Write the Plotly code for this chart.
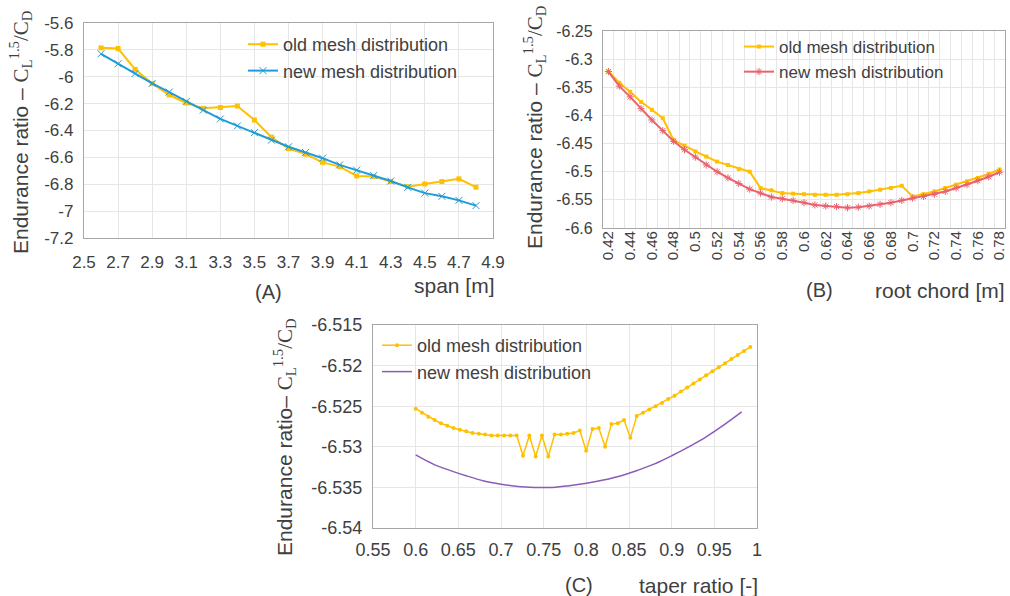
import plotly.graph_objects as go

# ---------------- data ----------------
# (A) span
span = [2.6, 2.7, 2.8, 2.9, 3.0, 3.1, 3.2, 3.3, 3.4, 3.5, 3.6, 3.7, 3.8, 3.9, 4.0,
        4.1, 4.2, 4.3, 4.4, 4.5, 4.6, 4.7, 4.8]
a_old = [-5.785, -5.790, -5.945, -6.050, -6.136, -6.195, -6.235, -6.229, -6.218, -6.322,
         -6.450, -6.535, -6.576, -6.637, -6.669, -6.738, -6.743, -6.780, -6.818, -6.798,
         -6.780, -6.760, -6.822]
a_new = [-5.829, -5.903, -5.976, -6.050, -6.114, -6.184, -6.248, -6.314, -6.366, -6.416,
         -6.472, -6.521, -6.564, -6.606, -6.656, -6.695, -6.735, -6.776, -6.823, -6.866,
         -6.890, -6.920, -6.959]
a_xticks = [2.5, 2.7, 2.9, 3.1, 3.3, 3.5, 3.7, 3.9, 4.1, 4.3, 4.5, 4.7, 4.9]
a_xtext = ["2.5", "2.7", "2.9", "3.1", "3.3", "3.5", "3.7", "3.9", "4.1", "4.3", "4.5", "4.7", "4.9"]
a_yticks = [-5.6, -5.8, -6.0, -6.2, -6.4, -6.6, -6.8, -7.0, -7.2]
a_ytext = ["-5.6", "-5.8", "-6", "-6.2", "-6.4", "-6.6", "-6.8", "-7", "-7.2"]

# (B) root chord
chord = [0.42, 0.43, 0.44, 0.45, 0.46, 0.47, 0.48, 0.49, 0.50, 0.51, 0.52, 0.53, 0.54,
         0.55, 0.56, 0.57, 0.58, 0.59, 0.60, 0.61, 0.62, 0.63, 0.64, 0.65, 0.66, 0.67,
         0.68, 0.69, 0.70, 0.71, 0.72, 0.73, 0.74, 0.75, 0.76, 0.77, 0.78]
b_old = [-6.322, -6.342, -6.358, -6.376, -6.390, -6.405, -6.444, -6.454, -6.464, -6.473,
         -6.482, -6.488, -6.495, -6.500, -6.529, -6.533, -6.538, -6.539, -6.540, -6.541,
         -6.541, -6.541, -6.540, -6.538, -6.535, -6.532, -6.529, -6.525, -6.544, -6.540,
         -6.535, -6.529, -6.523, -6.517, -6.511, -6.504, -6.496]
b_new = [-6.322, -6.348, -6.367, -6.388, -6.408, -6.427, -6.446, -6.461, -6.474, -6.488,
         -6.500, -6.511, -6.521, -6.531, -6.538, -6.545, -6.548, -6.551, -6.555, -6.559,
         -6.561, -6.562, -6.564, -6.563, -6.561, -6.558, -6.555, -6.551, -6.547, -6.544,
         -6.540, -6.535, -6.529, -6.523, -6.516, -6.509, -6.501]
b_xticks = [0.42, 0.44, 0.46, 0.48, 0.50, 0.52, 0.54, 0.56, 0.58, 0.60, 0.62, 0.64, 0.66,
            0.68, 0.70, 0.72, 0.74, 0.76, 0.78]
b_xtext = ["0.42", "0.44", "0.46", "0.48", "0.5", "0.52", "0.54", "0.56", "0.58", "0.6",
           "0.62", "0.64", "0.66", "0.68", "0.7", "0.72", "0.74", "0.76", "0.78"]
b_yticks = [-6.25, -6.3, -6.35, -6.4, -6.45, -6.5, -6.55, -6.6]
b_ytext = ["-6.25", "-6.3", "-6.35", "-6.4", "-6.45", "-6.5", "-6.55", "-6.6"]

# (C) taper ratio
taper_old = [0.6, 0.6074, 0.6148, 0.6222, 0.6296, 0.637, 0.6444, 0.6518, 0.6592, 0.6666,
             0.674, 0.6814, 0.6888, 0.6962, 0.7036, 0.711, 0.7184, 0.7258, 0.7332, 0.7406,
             0.748, 0.7554, 0.7628, 0.7702, 0.7776, 0.785, 0.7924, 0.7998, 0.8072, 0.8146,
             0.822, 0.8294, 0.8368, 0.8442, 0.8516, 0.859, 0.8664, 0.8738, 0.8812, 0.8886,
             0.896, 0.9034, 0.9108, 0.9182, 0.9256, 0.933, 0.9404, 0.9478, 0.9552, 0.9626,
             0.97, 0.9774, 0.9848, 0.9922]
c_old = [-6.5253, -6.5258, -6.5263, -6.5267, -6.5271, -6.5274, -6.5277, -6.5279, -6.5281,
         -6.5283, -6.5284, -6.5285, -6.5286, -6.5286, -6.5286, -6.5286, -6.5286, -6.5311,
         -6.5286, -6.5312, -6.5286, -6.5312, -6.5285, -6.5285, -6.5284, -6.5283, -6.5280,
         -6.5305, -6.5278, -6.5277, -6.5300, -6.5272, -6.5271, -6.5267, -6.5289, -6.5262,
         -6.5258, -6.5254, -6.5250, -6.5246, -6.5241, -6.5237, -6.5232, -6.5227, -6.5222,
         -6.5217, -6.5212, -6.5207, -6.5202, -6.5197, -6.5192, -6.5187, -6.5182, -6.5177]
taper_new = [0.60, 0.62, 0.64, 0.66, 0.68, 0.70, 0.72, 0.74, 0.76, 0.78, 0.80, 0.82, 0.84,
             0.86, 0.88, 0.90, 0.92, 0.94, 0.96, 0.982]
c_new = [-6.5310, -6.5321, -6.5329, -6.5336, -6.5342, -6.5346, -6.5349, -6.5350, -6.5350,
         -6.5348, -6.5345, -6.5341, -6.5336, -6.5329, -6.5321, -6.5311, -6.5300, -6.5288,
         -6.5274, -6.5257]
c_xticks = [0.55, 0.6, 0.65, 0.7, 0.75, 0.8, 0.85, 0.9, 0.95, 1.0]
c_xtext = ["0.55", "0.6", "0.65", "0.7", "0.75", "0.8", "0.85", "0.9", "0.95", "1"]
c_yticks = [-6.515, -6.52, -6.525, -6.53, -6.535, -6.54]
c_ytext = ["-6.515", "-6.52", "-6.525", "-6.53", "-6.535", "-6.54"]

# ---------------- style ----------------
FONT = "Arial, 'Liberation Sans', sans-serif"
TXT = "#404040"
GRID = "#E6E6E6"
BOX = "#A6A6A6"
YEL = "#FFC000"
BLUE = "#1F9BD7"
RED = "#E9626E"
PURP = "#8A5CB8"
W, H = 1010, 596


def px(x):
    return x / W


def py(y):
    return 1 - y / H


fig = go.Figure()

# (A)
fig.add_trace(go.Scatter(x=span, y=a_old, mode="lines+markers", name="old mesh distribution",
                         line=dict(color=YEL, width=2), marker=dict(symbol="square", size=5, color=YEL),
                         xaxis="x", yaxis="y", legend="legend"))
fig.add_trace(go.Scatter(x=span, y=a_new, mode="lines+markers", name="new mesh distribution",
                         line=dict(color=BLUE, width=2),
                         marker=dict(symbol="x-thin-open", size=7, color=BLUE, line=dict(width=1, color=BLUE)),
                         xaxis="x", yaxis="y", legend="legend"))
# (B)
fig.add_trace(go.Scatter(x=chord, y=b_old, mode="lines+markers", name="old mesh distribution",
                         line=dict(color=YEL, width=2), marker=dict(symbol="square", size=4, color=YEL),
                         xaxis="x2", yaxis="y2", legend="legend2"))
fig.add_trace(go.Scatter(x=chord, y=b_new, mode="lines+markers", name="new mesh distribution",
                         line=dict(color=RED, width=2),
                         marker=dict(symbol="asterisk-open", size=6, color=RED, line=dict(width=1, color=RED)),
                         xaxis="x2", yaxis="y2", legend="legend2"))
# (C)
fig.add_trace(go.Scatter(x=taper_old, y=c_old, mode="lines+markers", name="old mesh distribution",
                         line=dict(color=YEL, width=1.5), marker=dict(symbol="circle", size=4, color=YEL),
                         xaxis="x3", yaxis="y3", legend="legend3"))
fig.add_trace(go.Scatter(x=taper_new, y=c_new, mode="lines", name="new mesh distribution",
                         line=dict(color=PURP, width=1.5, shape="spline"),
                         xaxis="x3", yaxis="y3", legend="legend3"))


def ax(domain, anchor, rng, tickvals, ticktext, size, grid=True, **kw):
    d = dict(domain=domain, anchor=anchor, range=rng, tickmode="array", tickvals=tickvals,
             ticktext=ticktext, showgrid=grid, gridcolor=GRID, gridwidth=1, zeroline=False,
             showline=True, mirror=True, linecolor=BOX, linewidth=1.3, ticks="",
             automargin=False,
             tickfont=dict(family=FONT, size=size, color=TXT))
    d.update(kw)
    return d


fig.update_layout(
    template="none",
    width=W, height=H, margin=dict(l=0, r=0, t=0, b=0, pad=0, autoexpand=False),
    paper_bgcolor="white", plot_bgcolor="white",
    font=dict(family=FONT, color=TXT),
    xaxis=ax([px(84), px(493)], "y", [2.5, 4.9], a_xticks, a_xtext, 17, ticklabelstandoff=8),
    yaxis=ax([py(238), py(23)], "x", [-7.2, -5.6], a_yticks, a_ytext, 17, ticklabelstandoff=6),
    xaxis2=ax([px(603), px(1005)], "y2", [0.415, 0.785], b_xticks, b_xtext, 15, grid=False,
              tickangle=-90, ticklabelstandoff=-4,
              minor=dict(tick0=0.425, dtick=0.01, showgrid=True, gridcolor=GRID, gridwidth=1, ticks="")),
    yaxis2=ax([py(228), py(31)], "x2", [-6.6, -6.25], b_yticks, b_ytext, 16, ticklabelstandoff=6),
    xaxis3=ax([px(373), px(757)], "y3", [0.55, 1.0], c_xticks, c_xtext, 18, ticklabelstandoff=5),
    yaxis3=ax([py(528), py(325)], "x3", [-6.54, -6.515], c_yticks, c_ytext, 18, ticklabelstandoff=6),
    legend=dict(x=px(243), y=py(26), xanchor="left", yanchor="top", bgcolor="rgba(0,0,0,0)",
                font=dict(family=FONT, size=18, color=TXT), itemwidth=30, tracegroupgap=0),
    legend2=dict(x=px(739), y=py(29), xanchor="left", yanchor="top", bgcolor="rgba(0,0,0,0)",
                 font=dict(family=FONT, size=17, color=TXT), itemwidth=30, tracegroupgap=0),
    legend3=dict(x=px(377), y=py(327), xanchor="left", yanchor="top", bgcolor="rgba(0,0,0,0)",
                 font=dict(family=FONT, size=18, color=TXT), itemwidth=30, tracegroupgap=0),
)

SER = "<span style='font-family:\"Liberation Serif\", \"DejaVu Serif\", serif'>"
ytitle_a = "Endurance ratio – " + SER + "C<sub>L</sub><sup>1.5</sup>/C<sub>D</sub></span>"
ytitle_c = "Endurance ratio– " + SER + "C<sub>L</sub><sup>1.5</sup>/C<sub>D</sub></span>"

ann = []


def add(text, x, y, size, xanchor="center", angle=0):
    ann.append(dict(text=text, x=px(x), y=py(y), xref="paper", yref="paper", showarrow=False,
                    xanchor=xanchor, yanchor="middle", textangle=angle,
                    font=dict(family=FONT, size=size, color=TXT)))


add(ytitle_a, 20, 132, 21, angle=-90)
add(ytitle_a, 534, 127, 21, angle=-90)
add(ytitle_c, 284, 437, 21, angle=-90)
add("span [m]", 497, 286, 21, xanchor="right")
add("(A)", 268, 292, 20)
add("root chord [m]", 1007, 290, 21, xanchor="right")
add("(B)", 819, 290, 20)
add("taper ratio [-]", 760, 585, 21, xanchor="right")
add("(C)", 579, 585, 20)
fig.update_layout(annotations=ann)

fig.write_html("out.html", config={"displayModeBar": False},
               post_script="document.body.style.margin='0px';document.body.style.overflow='hidden';")
